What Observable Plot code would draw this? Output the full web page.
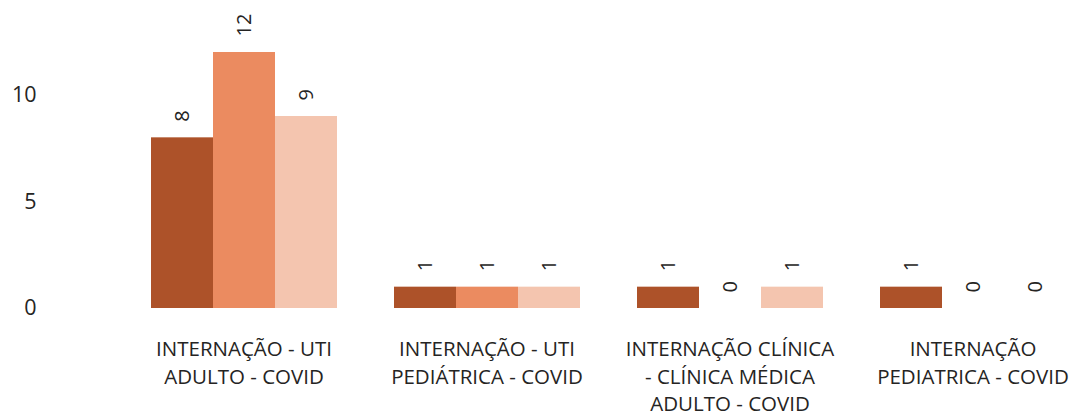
<!DOCTYPE html>
<html>
<head>
<meta charset="utf-8">
<script src="https://cdn.jsdelivr.net/npm/d3@7"></script>
<script src="https://cdn.jsdelivr.net/npm/@observablehq/plot@0.6"></script>
<style>
  html, body { margin: 0; padding: 0; background: #ffffff; }
</style>
</head>
<body>
<div id="chart"></div>
<script>
const categories = [
  "INTERNAÇÃO - UTI ADULTO - COVID",
  "INTERNAÇÃO - UTI PEDIÁTRICA - COVID",
  "INTERNAÇÃO CLÍNICA - CLÍNICA MÉDICA ADULTO - COVID",
  "INTERNAÇÃO PEDIATRICA - COVID"
];
const categoryLabels = [
  "INTERNAÇÃO - UTI\nADULTO - COVID",
  "INTERNAÇÃO - UTI\nPEDIÁTRICA - COVID",
  "INTERNAÇÃO CLÍNICA\n- CLÍNICA MÉDICA\nADULTO - COVID",
  "INTERNAÇÃO\nPEDIATRICA - COVID"
];
const series = ["Série 1", "Série 2", "Série 3"];
const values1 = [8, 1, 1, 1];
const values2 = [12, 1, 0, 0];
const values3 = [9, 1, 1, 0];
const seriesColors = ["#AD5229", "#EB8B60", "#F4C5AF"];
const yTicks = [0, 5, 10];

const allValues = [values1, values2, values3];
const data = [];
categories.forEach((c, i) => {
  series.forEach((s, j) => {
    data.push({category: c, series: s, value: allValues[j][i]});
  });
});

const textColor = "#252423";

const chart = Plot.plot({
  width: 1077,
  height: 416,
  marginLeft: 148,
  marginRight: 10,
  marginTop: 52,
  marginBottom: 108,
  style: {fontFamily: "'Open Sans', sans-serif", fontSize: "20px", color: textColor, background: "#ffffff"},
  fx: {domain: categories, paddingInner: 0.232, paddingOuter: 0, label: null},
  x: {domain: series, padding: 0, axis: null},
  y: {domain: [0, 12], axis: null},
  color: {domain: series, range: seriesColors},
  marks: [
    Plot.barY(data, {fx: "category", x: "series", y: "value", fill: "series"}),
    Plot.text(data, {
      fx: "category", x: "series", y: "value",
      text: d => String(d.value),
      rotate: -90, textAnchor: "start", dy: -16,
      fontSize: 20, fill: textColor
    }),
    Plot.axisY({ticks: yTicks, tickSize: 0, tickPadding: 114, label: null, fontSize: 21.5, fill: textColor}),
    Plot.axisFx({
      anchor: "bottom", tickSize: 0, tickPadding: 28, label: null,
      tickFormat: d => categoryLabels[categories.indexOf(d)],
      lineHeight: 1.35, fontSize: 20.5, fill: textColor
    })
  ]
});
document.getElementById("chart").appendChild(chart);
</script>
</body>
</html>
